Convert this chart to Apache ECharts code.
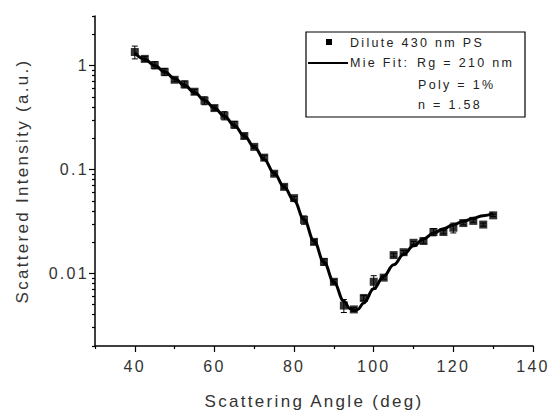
<!DOCTYPE html>
<html>
<head>
<meta charset="utf-8">
<script src="https://cdn.jsdelivr.net/npm/echarts@6/dist/echarts.min.js"></script>
<style>
  html, body { margin: 0; padding: 0; background: #fff; }
  #main { width: 548px; height: 412px; }
  /* Origin exports its text with wide letter spacing */
  #main text { letter-spacing: 2.3px; }
</style>
</head>
<body>
<div id="main"></div>
<script>
// measured points
var angles = [40, 42.5, 45, 47.5, 50, 52.5, 55, 57.5, 60, 62.5, 65, 67.5, 70, 72.5, 75, 77.5,
  80, 82.5, 85, 87.5, 90, 92.5, 95, 97.5, 100, 102.5, 105, 107.5, 110, 112.5, 115, 117.5,
  120, 122.5, 125, 127.5, 130]
var intensity = [1.35, 1.16, 1.01, 0.87, 0.73, 0.66, 0.56, 0.46, 0.39, 0.33, 0.27, 0.21, 0.165, 0.13,
  0.091, 0.068, 0.053, 0.0327, 0.0201, 0.0129, 0.0083, 0.0049, 0.0045, 0.0058, 0.0083, 0.0091,
  0.0150, 0.0160, 0.0197, 0.0205, 0.0250, 0.0250, 0.0275, 0.0305, 0.032, 0.0295, 0.0362]
var errors = [0.19, 0.06, 0.08, 0.07, 0.03, 0.05, 0.03, 0.04, 0.02, 0.03, 0.02, 0.01, 0.006, 0.007,
  0.004, 0.003, 0.002, 0.003, 0.001, 0.0009, 0.0004, 0.0007, 0.0002, 0.0003, 0.0012, 0.0003,
  0.0006, 0.0006, 0.0006, 0.001, 0.002, 0.001, 0.003, 0.0012, 0.001, 0.001, 0.001]

// Mie fit curve
var fitAngles = [40, 42.5, 45, 47.5, 50, 52.5, 55, 57.5, 60, 62.5, 65, 67.5, 70, 72.5, 75, 77.5,
  80, 82.5, 85, 87.5, 90, 92.5, 94, 95, 96, 97.5, 100, 102.5, 105, 107.5, 110, 112.5, 115, 117.5,
  120, 122.5, 125, 127.5, 130]
var fitValues = [1.32, 1.15, 1.0, 0.87, 0.75, 0.645, 0.55, 0.465, 0.39, 0.325, 0.265, 0.21, 0.165,
  0.125, 0.092, 0.068, 0.05, 0.033, 0.0205, 0.0128, 0.0082, 0.0054, 0.0046, 0.0044, 0.0045, 0.0052,
  0.0071, 0.0094, 0.0121, 0.0152, 0.0184, 0.0214, 0.0243, 0.0269, 0.0294, 0.0317, 0.0339, 0.0359, 0.0378]

// ticks
var xMajor = [40, 60, 80, 100, 120, 140]
var xMinor = [30, 50, 70, 90, 110, 130]
var yMajor = [0.01, 0.1, 1]
var yMinor = [0.002, 0.003, 0.004, 0.005, 0.006, 0.007, 0.008, 0.009,
  0.02, 0.03, 0.04, 0.05, 0.06, 0.07, 0.08, 0.09,
  0.2, 0.3, 0.4, 0.5, 0.6, 0.7, 0.8, 0.9, 2, 3]

var font = 'Liberation Sans, Arial, sans-serif'
var ink = '#000'
var txt = '#333'

var points = angles.map(function (a, i) { return [a, intensity[i]] })
var bars = angles.map(function (a, i) { return [a, intensity[i] - errors[i], intensity[i] + errors[i]] })
var fit = fitAngles.map(function (a, i) { return [a, fitValues[i]] })

var chart = echarts.init(document.getElementById('main'), null, { renderer: 'svg' })
chart.setOption({
  animation: false,
  backgroundColor: '#fff',
  textStyle: { fontFamily: font },
  grid: { left: 95, right: 15, top: 16, bottom: 66, containLabel: false, outerBoundsMode: 'none' },
  xAxis: [{
    type: 'value', min: 30, max: 140,
    name: 'Scattering Angle (deg)', nameLocation: 'middle', nameGap: 47,
    nameTextStyle: { fontSize: 17, color: txt, fontFamily: font },
    axisLine: { lineStyle: { color: ink, width: 1.5 } },
    axisTick: { customValues: xMajor, length: 6, lineStyle: { color: ink, width: 1.2 } },
    axisLabel: { customValues: xMajor, fontSize: 16, color: txt, margin: 12, fontFamily: font },
    splitLine: { show: false }
  }, {
    type: 'value', min: 30, max: 140, position: 'bottom',
    axisLine: { show: false },
    axisTick: { customValues: xMinor, length: 3, lineStyle: { color: ink, width: 1.2 } },
    axisLabel: { show: false },
    splitLine: { show: false }
  }],
  yAxis: [{
    type: 'log', min: 0.002, max: 3,
    name: 'Scattered Intensity (a.u.)', nameLocation: 'middle', nameGap: 64, nameRotate: 90,
    nameTextStyle: { fontSize: 17, color: txt, fontFamily: font },
    axisLine: { lineStyle: { color: ink, width: 1.5 } },
    axisTick: { customValues: yMajor, length: 6, lineStyle: { color: ink, width: 1.2 } },
    axisLabel: { customValues: yMajor, fontSize: 16, color: txt, margin: 6, fontFamily: font },
    splitLine: { show: false }
  }, {
    type: 'log', min: 0.002, max: 3, position: 'left',
    axisLine: { show: false },
    axisTick: { customValues: yMinor, length: 3, lineStyle: { color: ink, width: 1.2 } },
    axisLabel: { show: false },
    splitLine: { show: false }
  }],
  series: [{
    name: 'Mie Fit',
    type: 'line',
    data: fit,
    smooth: 0.4,
    smoothMonotone: 'x',
    showSymbol: false,
    lineStyle: { color: ink, width: 3 },
    z: 3
  }, {
    name: 'error',
    type: 'custom',
    data: bars,
    encode: { x: 0, y: [1, 2] },
    renderItem: function (params, api) {
      var lo = api.coord([api.value(0), api.value(1)])
      var hi = api.coord([api.value(0), api.value(2)])
      var w = 3
      var st = { stroke: ink, lineWidth: 1 }
      return {
        type: 'group',
        children: [
          { type: 'line', shape: { x1: lo[0], y1: lo[1], x2: hi[0], y2: hi[1] }, style: st },
          { type: 'line', shape: { x1: lo[0] - w, y1: lo[1], x2: lo[0] + w, y2: lo[1] }, style: st },
          { type: 'line', shape: { x1: hi[0] - w, y1: hi[1], x2: hi[0] + w, y2: hi[1] }, style: st }
        ]
      }
    },
    z: 2
  }, {
    name: 'Dilute 430 nm PS',
    type: 'scatter',
    data: points,
    symbol: 'rect',
    symbolSize: 8,
    itemStyle: { color: ink },
    z: 4
  }],
  graphic: [
    { type: 'rect', shape: { x: 306, y: 32, width: 219, height: 85 },
      style: { fill: '#fff', stroke: ink, lineWidth: 1.2 }, z: 10 },
    { type: 'rect', shape: { x: 326, y: 39, width: 6, height: 6 }, style: { fill: ink }, z: 11 },
    { type: 'line', shape: { x1: 308, y1: 63, x2: 348, y2: 63 },
      style: { stroke: ink, lineWidth: 2 }, z: 11 },
    { type: 'text', x: 350, y: 43, z: 11,
      style: { text: 'Dilute 430 nm PS', font: '12.5px ' + font, fill: '#222', verticalAlign: 'middle' } },
    { type: 'text', x: 350, y: 63, z: 11,
      style: { text: 'Mie Fit:', font: '12.5px ' + font, fill: '#222', verticalAlign: 'middle' } },
    { type: 'text', x: 417, y: 63, z: 11,
      style: { text: 'Rg = 210 nm', font: '12.5px ' + font, fill: '#222', verticalAlign: 'middle' } },
    { type: 'text', x: 418, y: 85, z: 11,
      style: { text: 'Poly = 1%', font: '12.5px ' + font, fill: '#222', verticalAlign: 'middle' } },
    { type: 'text', x: 418, y: 105, z: 11,
      style: { text: 'n = 1.58', font: '12.5px ' + font, fill: '#222', verticalAlign: 'middle' } }
  ]
})
</script>
</body>
</html>
